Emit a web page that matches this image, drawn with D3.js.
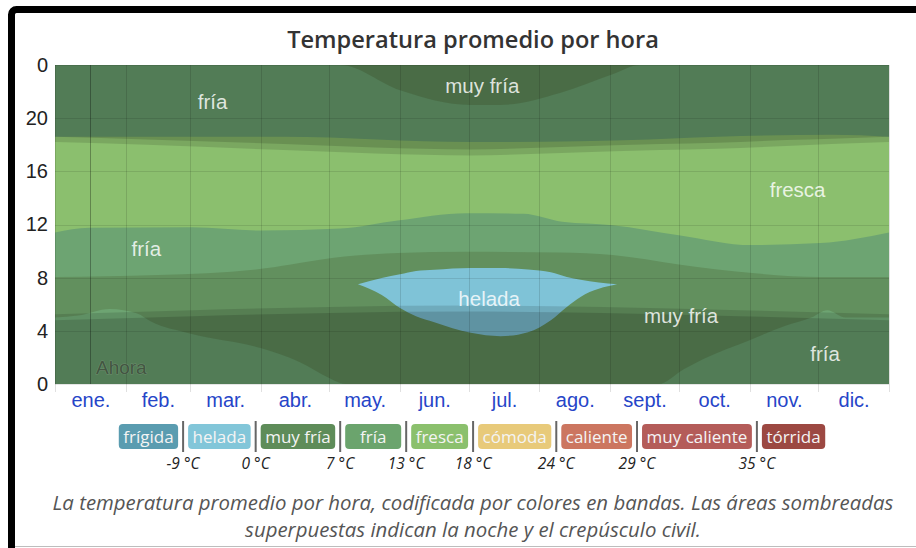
<!DOCTYPE html>
<html>
<head>
<meta charset="utf-8">
<script src="https://cdn.jsdelivr.net/npm/d3@7"></script>
<style>
  html, body { margin: 0; padding: 0; background: #fff; }
  svg { display: block; }
</style>
</head>
<body>
<svg id="chart" width="916" height="548"></svg>
<script>
// ---- Calendar and axis values -------------------------------------------
const monthNames  = ["ene.", "feb.", "mar.", "abr.", "may.", "jun.", "jul.", "ago.", "sept.", "oct.", "nov.", "dic."];
const monthStarts = [0, 31, 59, 90, 120, 151, 181, 212, 243, 273, 304, 334, 365];
const hourTicks   = [0, 4, 8, 12, 16, 20, 24];
const nowDay      = 15.3;

// ---- Temperature band crossings: [day of year, hour] ---------------------
// night: fría -> muy fría (temperature drops below 7 °C before dawn)
const friaToMuyFriaNight = [[0,5.0],[10,5.15],[24,5.65],[36,5.3],[42,4.7],[59,3.8],[90,2.7],[107,1.65],[120,0.45],[127,0],
                            [264,0],[275,1.1],[284,1.9],[304,3.3],[320,4.4],[331,5.0],[338,5.55],[346,5.0],[365,5.0]];
// morning: muy fría -> fría (rises above 7 °C)
const muyFriaToFriaAM = [[0,8.05],[45,8.2],[92,8.7],[107,9.1],[122,9.5],[150,9.85],[180,9.95],[221,9.9],[244,9.7],
                         [273,9.0],[305,8.35],[335,8.05],[365,8.05]];
// morning: fría -> fresca (rises above 13 °C)
const friaToFrescaAM = [[0,11.4],[15,11.75],[60,11.8],[90,11.55],[125,11.7],[150,12.3],[180,12.85],[205,12.8],[222,12.2],
                        [244,11.95],[273,11.2],[305,10.45],[335,10.6],[365,11.4]];
// evening: fresca -> fría (drops below 13 °C)
const frescaToFriaPM = [[0,18.6],[100,18.6],[182,18.2],[260,18.4],[300,18.65],[340,18.75],[365,18.6]];
// evening: fría -> muy fría (drops below 7 °C)
const friaToMuyFriaPM = [[0,24],[124.7,24],[151,22.1],[181.6,21.0],[194.8,21.0],[221,21.9],[244,23.3],[256,24],[365,24]];
// helada (below 0 °C): [day, hour it starts freezing, hour it thaws]
const heladaRange = [[132.6,7.5,7.5],[143,6.7,7.98],[151,5.72,8.25],[158,5.1,8.5],[166,4.65,8.6],[182,3.85,8.73],
                     [195,3.6,8.72],[207,3.9,8.62],[217,4.8,8.4],[224,5.8,8.05],[230,6.55,7.85],[246,7.5,7.5]];

// ---- Daylight: [day of year, hour] --------------------------------------
const dawn    = [[0,4.8],[60,5.1],[120,5.35],[180,5.45],[240,5.35],[300,5.1],[365,4.8]];
const sunrise = [[0,5.25],[60,5.55],[120,5.8],[180,5.9],[240,5.8],[300,5.55],[365,5.25]];
const sunset  = [[0,18.2],[40,18.0],[100,17.6],[140,17.35],[182,17.2],[225,17.4],[265,17.6],[290,17.7],[320,17.9],[340,18.05],[365,18.2]];
const dusk    = [[0,18.6],[40,18.4],[100,18.05],[140,17.8],[182,17.65],[225,17.85],[265,18.05],[290,18.15],[320,18.35],[340,18.45],[365,18.6]];

// ---- Band labels --------------------------------------------------------
const bandLabels = [
  {text: "fría",     day: 69,  hour: 21.2},
  {text: "muy fría", day: 187, hour: 22.4},
  {text: "fresca",   day: 325, hour: 14.6},
  {text: "fría",     day: 40,  hour: 10.2},
  {text: "helada",   day: 190, hour: 6.4},
  {text: "muy fría", day: 274, hour: 5.1},
  {text: "fría",     day: 337, hour: 2.3}
];

// ---- Legend -------------------------------------------------------------
const legendNames      = ["frígida", "helada", "muy fría", "fría", "fresca", "cómoda", "caliente", "muy caliente", "tórrida"];
const legendThresholds = ["-9 °C", "0 °C", "7 °C", "13 °C", "18 °C", "24 °C", "29 °C", "35 °C"];

// ---- Style --------------------------------------------------------------
const bandColor = {
  "frígida": "#5b9cb0", "helada": "#7fc3d7", "muy fría": "#62905e", "fría": "#6da472",
  "fresca": "#8bbf6e", "cómoda": "#e8ca7a", "caliente": "#cc7660", "muy caliente": "#b45c59", "tórrida": "#9c4842"
};
const legendColor = {
  "frígida": "#5a9cb0", "helada": "#82c6d9", "muy fría": "#5e8c59", "fría": "#6ba46d",
  "fresca": "#8bc06d", "cómoda": "#e8ca7a", "caliente": "#cc7660", "muy caliente": "#b45c59", "tórrida": "#9c4842"
};

const W = 916, H = 548;
const plot = {left: 55, right: 889, top: 65, bottom: 384};

const svg = d3.select("#chart");

// Card frame
svg.append("rect").attr("x", 11.5).attr("y", 9.5).attr("width", 1000).attr("height", 1000)
  .attr("rx", 5).attr("fill", "#fff").attr("stroke", "#000").attr("stroke-width", 7);
svg.append("line").attr("x1", 15).attr("x2", W).attr("y1", 546.5).attr("y2", 546.5)
  .attr("stroke", "#bdbdbd").attr("stroke-width", 1);

// Title
svg.append("text").attr("x", 473).attr("y", 48).attr("text-anchor", "middle")
  .attr("font-family", "'Open Sans', sans-serif").attr("font-weight", 600).attr("font-size", 23.6)
  .attr("fill", "#333").text("Temperatura promedio por hora");

const x = d3.scaleLinear().domain([0, 365]).range([plot.left, plot.right]);
const y = d3.scaleLinear().domain([0, 24]).range([plot.bottom, plot.top]);
const curve = d3.curveMonotoneX;

const aboveArea = d3.area().x(d => x(d[0])).y0(d => y(d[1])).y1(y(24)).curve(curve);
const belowArea = d3.area().x(d => x(d[0])).y0(y(0)).y1(d => y(d[1])).curve(curve);
const heladaArea = d3.area().x(d => x(d[0])).y0(d => y(d[1])).y1(d => y(d[2])).curve(curve);

svg.append("clipPath").attr("id", "plotClip").append("rect")
  .attr("x", plot.left).attr("y", plot.top).attr("width", plot.right - plot.left).attr("height", plot.bottom - plot.top);

const g = svg.append("g").attr("clip-path", "url(#plotClip)");

// Temperature bands, painted bottom-up
g.append("rect").attr("x", plot.left).attr("y", plot.top)
  .attr("width", plot.right - plot.left).attr("height", plot.bottom - plot.top).attr("fill", bandColor["muy fría"]);
g.append("path").attr("d", aboveArea(muyFriaToFriaAM)).attr("fill", bandColor["fría"]);
g.append("path").attr("d", aboveArea(friaToFrescaAM)).attr("fill", bandColor["fresca"]);
g.append("path").attr("d", aboveArea(frescaToFriaPM)).attr("fill", bandColor["fría"]);
g.append("path").attr("d", aboveArea(friaToMuyFriaPM)).attr("fill", bandColor["muy fría"]);
g.append("path").attr("d", belowArea(friaToMuyFriaNight)).attr("fill", bandColor["fría"]);
g.append("path").attr("d", heladaArea(heladaRange)).attr("fill", bandColor["helada"]);

// Twilight and night shading
g.append("path").attr("d", belowArea(sunrise)).attr("fill", "#000").attr("fill-opacity", 0.12);
g.append("path").attr("d", belowArea(dawn)).attr("fill", "#000").attr("fill-opacity", 0.136);
g.append("path").attr("d", aboveArea(sunset)).attr("fill", "#000").attr("fill-opacity", 0.12);
g.append("path").attr("d", aboveArea(dusk)).attr("fill", "#000").attr("fill-opacity", 0.136);

// Grid
const grid = svg.append("g");
grid.selectAll("line.h").data(hourTicks).join("line")
  .attr("x1", plot.left).attr("x2", plot.right)
  .attr("y1", d => Math.round(y(d)) + 0.5).attr("y2", d => Math.round(y(d)) + 0.5)
  .attr("stroke", "#000").attr("stroke-opacity", 0.1);
grid.selectAll("line.v").data(monthStarts).join("line")
  .attr("x1", d => Math.round(x(d)) + 0.5).attr("x2", d => Math.round(x(d)) + 0.5)
  .attr("y1", plot.top).attr("y2", plot.bottom + 8)
  .attr("stroke", "#000").attr("stroke-opacity", 0.12);

// Now marker
svg.append("line").attr("x1", Math.round(x(nowDay)) + 0.5).attr("x2", Math.round(x(nowDay)) + 0.5)
  .attr("y1", plot.top).attr("y2", plot.bottom).attr("stroke", "#000").attr("stroke-opacity", 0.3);
svg.append("text").attr("x", x(nowDay) + 6).attr("y", 374)
  .attr("font-family", "'Liberation Sans', Arial, sans-serif").attr("font-size", 19)
  .attr("fill", "#3a4838").attr("fill-opacity", 0.8)
  .attr("stroke", "#9fb59c").attr("stroke-opacity", 0.35).attr("stroke-width", 1)
  .attr("paint-order", "stroke")
  .text("Ahora");

// Band labels
svg.append("g").selectAll("text").data(bandLabels).join("text")
  .attr("x", d => x(d.day)).attr("y", d => y(d.hour)).attr("dy", "0.35em")
  .attr("text-anchor", "middle")
  .attr("font-family", "'Liberation Sans', Arial, sans-serif").attr("font-size", 20.5)
  .attr("fill", "#fff").attr("fill-opacity", 0.82)
  .text(d => d.text);

// Y axis
const yAxis = svg.append("g").attr("transform", `translate(${plot.left},0)`)
  .call(d3.axisLeft(y).tickValues(hourTicks).tickFormat(h => h % 24).tickSize(0).tickPadding(7));
yAxis.select(".domain").remove();
yAxis.selectAll("text").attr("font-family", "'Liberation Sans', Arial, sans-serif")
  .attr("font-size", 20).attr("fill", "#222");

// X axis (month labels at mid-month)
const monthMids = monthNames.map((m, i) => (monthStarts[i] + monthStarts[i + 1]) / 2);
const xAxis = svg.append("g").attr("transform", `translate(0,${plot.bottom})`)
  .call(d3.axisBottom(x).tickValues(monthMids).tickFormat((d, i) => monthNames[i]).tickSize(0).tickPadding(9));
xAxis.select(".domain").remove();
xAxis.selectAll("text").attr("font-family", "'Liberation Sans', Arial, sans-serif")
  .attr("font-size", 20).attr("fill", "#2645c8");

// Legend
const legend = svg.append("g");
const legendFont = "'Open Sans', sans-serif";
const boxH = 25, boxTop = 424, gap = 4, minBox = 56;
const items = legendNames.map(name => {
  const t = legend.append("text").attr("font-family", legendFont).attr("font-size", 17).text(name);
  const w = t.node().getComputedTextLength();
  t.remove();
  return {name, w: Math.max(w + 9, minBox)};
});
const totalW = d3.sum(items, d => d.w) + (items.length - 1) * (2 * gap + 2);
let cx = 472 - totalW / 2;
const seps = [];
items.forEach((it, i) => {
  it.x = cx;
  cx += it.w;
  if (i < items.length - 1) { seps.push(cx + gap + 1); cx += 2 * gap + 2; }
});
legend.selectAll("rect").data(items).join("rect")
  .attr("x", d => d.x).attr("y", boxTop).attr("width", d => d.w).attr("height", boxH)
  .attr("rx", 4).attr("fill", d => legendColor[d.name]);
legend.selectAll("text.name").data(items).join("text").attr("class", "name")
  .attr("x", d => d.x + d.w / 2).attr("y", boxTop + boxH / 2).attr("dy", "0.36em")
  .attr("text-anchor", "middle").attr("font-family", legendFont).attr("font-size", 17)
  .attr("fill", "#f4f4f4").text(d => d.name);
legend.selectAll("line").data(seps).join("line")
  .attr("x1", d => d).attr("x2", d => d).attr("y1", boxTop - 3).attr("y2", boxTop + boxH + 3)
  .attr("stroke", "#666").attr("stroke-width", 2);
legend.selectAll("text.thr").data(legendThresholds).join("text").attr("class", "thr")
  .attr("x", (d, i) => seps[i]).attr("y", 469).attr("text-anchor", "middle")
  .attr("font-family", legendFont).attr("font-style", "italic").attr("font-size", 15.5)
  .attr("fill", "#222").text(d => d);

// Caption
const caption = ["La temperatura promedio por hora, codificada por colores en bandas. Las áreas sombreadas",
                 "superpuestas indican la noche y el crepúsculo civil."];
svg.append("g").selectAll("text").data(caption).join("text")
  .attr("x", 473).attr("y", (d, i) => 510 + i * 27).attr("text-anchor", "middle")
  .attr("font-family", "'Open Sans', sans-serif").attr("font-style", "italic").attr("font-size", 20.4)
  .attr("fill", "#555").text(d => d);
</script>
</body>
</html>
